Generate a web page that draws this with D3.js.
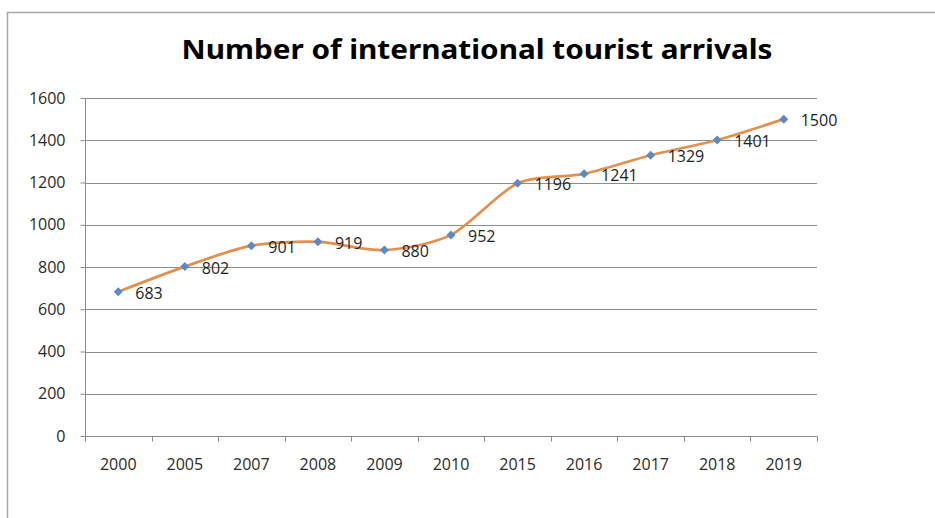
<!DOCTYPE html>
<html>
<head>
<meta charset="utf-8">
<script src="https://cdn.jsdelivr.net/npm/d3@7"></script>
<style>
  html, body { margin: 0; padding: 0; background: #fff; }
  svg { display: block; }
</style>
</head>
<body>
<svg id="chart" width="935" height="518"></svg>
<script>
// International tourist arrivals (millions), by year
const years = ["2000", "2005", "2007", "2008", "2009", "2010", "2015", "2016", "2017", "2018", "2019"];
const arrivals = [683, 802, 901, 919, 880, 952, 1196, 1241, 1329, 1401, 1500];
const yTicks = [0, 200, 400, 600, 800, 1000, 1200, 1400, 1600];
const chartTitle = "Number of international tourist arrivals";

const svg = d3.select("#chart");
const W = 935, H = 518;
const plot = { left: 85, right: 817, top: 98, bottom: 436 };

// Chart frame
svg.append("path")
  .attr("d", `M7.5,${H} V12.5 H${W}`)
  .attr("fill", "none")
  .attr("stroke", "#a6a6a6")
  .attr("stroke-width", 1.5);

// Title
svg.append("text")
  .attr("x", 477)
  .attr("y", 59)
  .attr("text-anchor", "middle")
  .attr("font-family", "'Noto Sans', sans-serif")
  .attr("font-weight", "bold")
  .attr("font-size", 27.5)
  .attr("fill", "#000")
  .attr("textLength", 591)
  .attr("lengthAdjust", "spacingAndGlyphs")
  .text(chartTitle);

const x = d3.scaleBand().domain(years).range([plot.left, plot.right]);
const y = d3.scaleLinear().domain([0, 1600]).range([plot.bottom, plot.top]);

const fontFam = "'Open Sans', sans-serif";
const fontSize = 16;

// Horizontal gridlines
svg.append("g")
  .selectAll("line")
  .data(yTicks.filter(v => v > 0))
  .join("line")
  .attr("x1", plot.left).attr("x2", plot.right)
  .attr("y1", d => Math.round(y(d)) + 0.5).attr("y2", d => Math.round(y(d)) + 0.5)
  .attr("stroke", "#8c8c8c").attr("stroke-width", 1);

// Y axis
const yAxis = svg.append("g")
  .attr("transform", `translate(${plot.left + 0.5},0)`)
  .call(d3.axisLeft(y).tickValues(yTicks).tickSize(5).tickPadding(15).tickFormat(d3.format("d")));
yAxis.selectAll("line").attr("stroke", "#8c8c8c");
yAxis.select(".domain").attr("stroke", "#8c8c8c").attr("d", `M-0,${plot.top}V${plot.bottom}`);
yAxis.selectAll("text")
  .attr("font-family", fontFam).attr("font-size", fontSize).attr("fill", "#2a2a2a");

// X axis with ticks at category boundaries
const xAxisG = svg.append("g")
  .attr("transform", `translate(0,${Math.round(plot.bottom) + 0.5})`);
xAxisG.append("line")
  .attr("x1", plot.left).attr("x2", plot.right)
  .attr("stroke", "#8c8c8c");
const boundaries = years.map(d => x(d)).concat([plot.right]);
xAxisG.selectAll("line.tick")
  .data(boundaries)
  .join("line")
  .attr("class", "tick")
  .attr("x1", d => Math.round(d) + 0.5).attr("x2", d => Math.round(d) + 0.5)
  .attr("y1", 0).attr("y2", 5)
  .attr("stroke", "#8c8c8c");
xAxisG.selectAll("text")
  .data(years)
  .join("text")
  .attr("x", d => x(d) + x.bandwidth() / 2)
  .attr("y", 33)
  .attr("text-anchor", "middle")
  .attr("font-family", fontFam).attr("font-size", fontSize).attr("fill", "#2a2a2a")
  .text(d => d);

const pts = years.map((yr, i) => ({ yr, v: arrivals[i] }));
const cx = d => x(d.yr) + x.bandwidth() / 2;

// Smoothed series line
const line = d3.line()
  .x(cx)
  .y(d => y(d.v))
  .curve(d3.curveCardinal.tension(0.2));
svg.append("path")
  .datum(pts)
  .attr("d", line)
  .attr("fill", "none")
  .attr("stroke", "#e2904e")
  .attr("stroke-width", 2.75)
  .attr("stroke-linejoin", "round");

// Diamond markers
svg.append("g")
  .selectAll("path")
  .data(pts)
  .join("path")
  .attr("transform", d => `translate(${cx(d)},${y(d.v)})`)
  .attr("d", "M0,-4.5 L4.5,0 L0,4.5 L-4.5,0 Z")
  .attr("fill", "#5b8ac4");

// Data labels to the right of each point
svg.append("g")
  .selectAll("text")
  .data(pts)
  .join("text")
  .attr("x", d => cx(d) + 17)
  .attr("y", d => y(d.v) + 7)
  .attr("font-family", fontFam).attr("font-size", fontSize).attr("fill", "#1e1e1e")
  .text(d => d.v);
</script>
</body>
</html>
